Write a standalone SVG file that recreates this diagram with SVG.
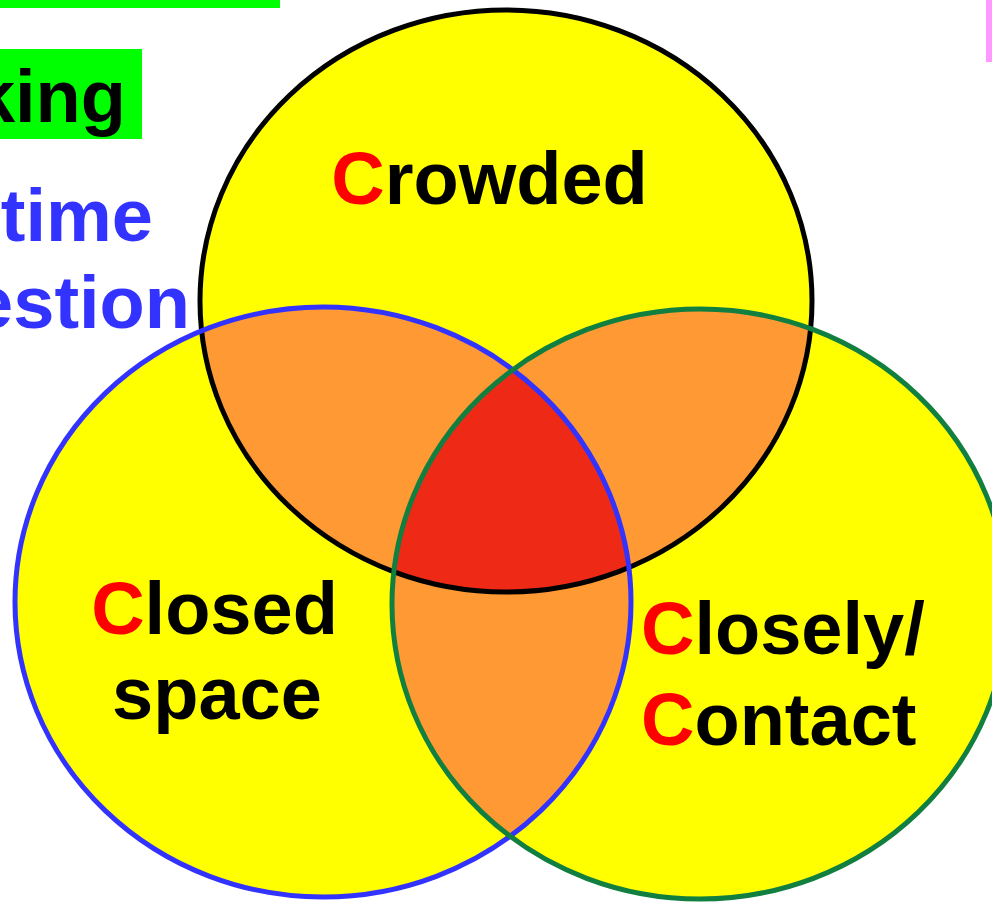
<svg xmlns="http://www.w3.org/2000/svg" width="992" height="905" viewBox="0 0 992 905">
<style>
.lbl{font-family:"Liberation Sans",Arial,sans-serif;font-weight:bold;font-size:74px;fill:#000}
.c{fill:#FF0000}
.side{font-family:"Liberation Sans",Arial,sans-serif;font-weight:bold;font-size:74px}
.ring{fill:none;stroke-width:5}
</style>
<defs>
<ellipse id="eBlack" cx="506" cy="301" rx="306" ry="291"/>
<ellipse id="eBlue" cx="323" cy="602" rx="308" ry="295"/>
<ellipse id="eGreen" cx="700" cy="604" rx="308" ry="295"/>
<clipPath id="cBlack"><use href="#eBlack"/></clipPath>
<clipPath id="cBlue"><use href="#eBlue"/></clipPath>
</defs>
<rect width="992" height="905" fill="#fff"/>
<g id="header">
<rect x="0" y="0" width="280" height="8" fill="#00FF00"/>
<rect x="0" y="49" width="142" height="90" fill="#00FF00"/>
<text class="side" x="126" y="122" text-anchor="end" fill="#000">king</text>
<text class="side" x="153" y="241" text-anchor="end" fill="#3333FF">time</text>
<text class="side" x="190" y="328" text-anchor="end" fill="#3333FF">estion</text>
<rect x="986" y="0" width="6" height="62" fill="#FF99FF"/>
</g>
<g id="regions">
<use href="#eBlack" fill="#FFFF00"/>
<use href="#eBlue" fill="#FFFF00"/>
<use href="#eGreen" fill="#FFFF00"/>
<use href="#eBlue" fill="#FF9933" clip-path="url(#cBlack)"/>
<use href="#eGreen" fill="#FF9933" clip-path="url(#cBlack)"/>
<use href="#eGreen" fill="#FF9933" clip-path="url(#cBlue)"/>
<g clip-path="url(#cBlack)"><use href="#eGreen" fill="#EE2A16" clip-path="url(#cBlue)"/></g>
</g>
<g id="crowded">
<use href="#eBlack" class="ring" stroke="#000"/>
<text class="lbl" x="489.5" y="204" text-anchor="middle"><tspan class="c">C</tspan>rowded</text>
</g>
<g id="closed-space">
<use href="#eBlue" class="ring" stroke="#3333FF"/>
<text class="lbl" x="214.5" y="634" text-anchor="middle"><tspan class="c">C</tspan>losed</text>
<text class="lbl" x="217" y="719" text-anchor="middle">space</text>
</g>
<g id="closely-contact">
<use href="#eGreen" class="ring" stroke="#117F40"/>
<text class="lbl" x="641" y="654"><tspan class="c">C</tspan>losely/</text>
<text class="lbl" x="641" y="745"><tspan class="c">C</tspan>ontact</text>
</g>
</svg>
